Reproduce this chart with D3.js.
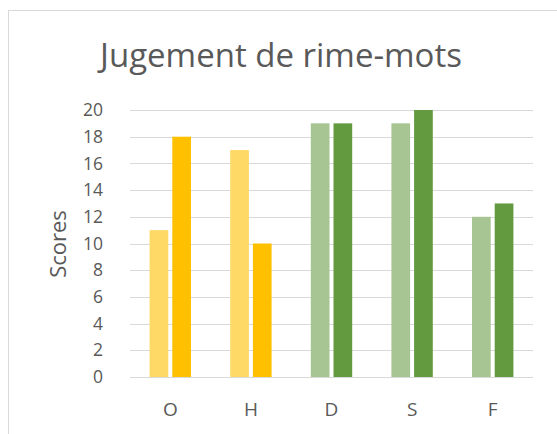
<!DOCTYPE html>
<html>
<head>
<meta charset="utf-8">
<script src="https://cdn.jsdelivr.net/npm/d3@7/dist/d3.min.js"></script>
<style>
html,body{margin:0;padding:0;background:#fff;}
svg{display:block;}
text{font-family:"Open Sans",sans-serif;fill:#595959;}
</style>
</head>
<body>
<svg id="chart" width="557" height="434"></svg>
<script>
const categories = ["O", "H", "D", "S", "F"];
const series1 = [11, 17, 19, 19, 12];
const series2 = [18, 10, 19, 20, 13];
const lightColors = ["#FFD966", "#FFD966", "#A6C593", "#A6C593", "#A6C593"];
const darkColors = ["#FFC000", "#FFC000", "#63993F", "#63993F", "#63993F"];
const yTicks = [0, 2, 4, 6, 8, 10, 12, 14, 16, 18, 20];
const titleText = "Jugement de rime-mots";
const yTitle = "Scores";

const svg = d3.select("#chart");
const plot = {left: 130, right: 533, top: 110, bottom: 377};

svg.append("rect").attr("x", 8.5).attr("y", 10.5).attr("width", 600).attr("height", 600)
  .attr("fill", "#fff").attr("stroke", "#d9d9d9").attr("stroke-width", 1);

const x = d3.scaleBand().domain(categories).range([plot.left, plot.right]).padding(0);
const bw = x.bandwidth();
const inner = d3.scaleBand().domain([0, 1]).range([bw / 2 - 20.7, bw / 2 + 20.7]).paddingInner(0.176);
const y = d3.scaleLinear().domain([0, 20]).range([plot.bottom, plot.top]);

svg.append("g").selectAll("line").data(yTicks).join("line")
  .attr("x1", plot.left).attr("x2", plot.right)
  .attr("y1", d => Math.round(y(d)) + 0.5).attr("y2", d => Math.round(y(d)) + 0.5)
  .attr("stroke", "#d9d9d9").attr("stroke-width", 1);

const yAxis = d3.axisLeft(y).tickValues(yTicks).tickSize(0).tickPadding(0);
const gy = svg.append("g").attr("transform", `translate(103,0)`).call(yAxis);
gy.select(".domain").remove();
gy.selectAll("text").style("font-family", '"Open Sans",sans-serif').style("font-size", "17.5px").attr("fill", "#595959");

const rows = categories.map((c, i) => ({c, i, v: [series1[i], series2[i]]}));
const groups = svg.append("g").selectAll("g").data(rows).join("g")
  .attr("transform", d => `translate(${x(d.c)},0)`);
groups.selectAll("rect").data(d => d.v.map((v, k) => ({v, k, i: d.i}))).join("rect")
  .attr("x", d => inner(d.k))
  .attr("width", inner.bandwidth())
  .attr("y", d => y(d.v))
  .attr("height", d => y(0) - y(d.v))
  .attr("fill", d => d.k === 0 ? lightColors[d.i] : darkColors[d.i]);

const xAxis = d3.axisBottom(x).tickSize(0).tickPadding(0);
const gx = svg.append("g").attr("transform", `translate(0,${plot.bottom})`).call(xAxis);
gx.select(".domain").remove();
gx.selectAll("text").attr("dy", null).attr("y", 39)
  .style("font-family", '"Open Sans",sans-serif').style("font-size", "19px").attr("fill", "#595959");

svg.append("text").attr("x", 281).attr("y", 67).attr("text-anchor", "middle")
  .style("font-size", "33px").text(titleText);

svg.append("text").attr("transform", "translate(66,244) rotate(-90)").attr("text-anchor", "middle")
  .style("font-size", "22px").text(yTitle);
</script>
</body>
</html>
